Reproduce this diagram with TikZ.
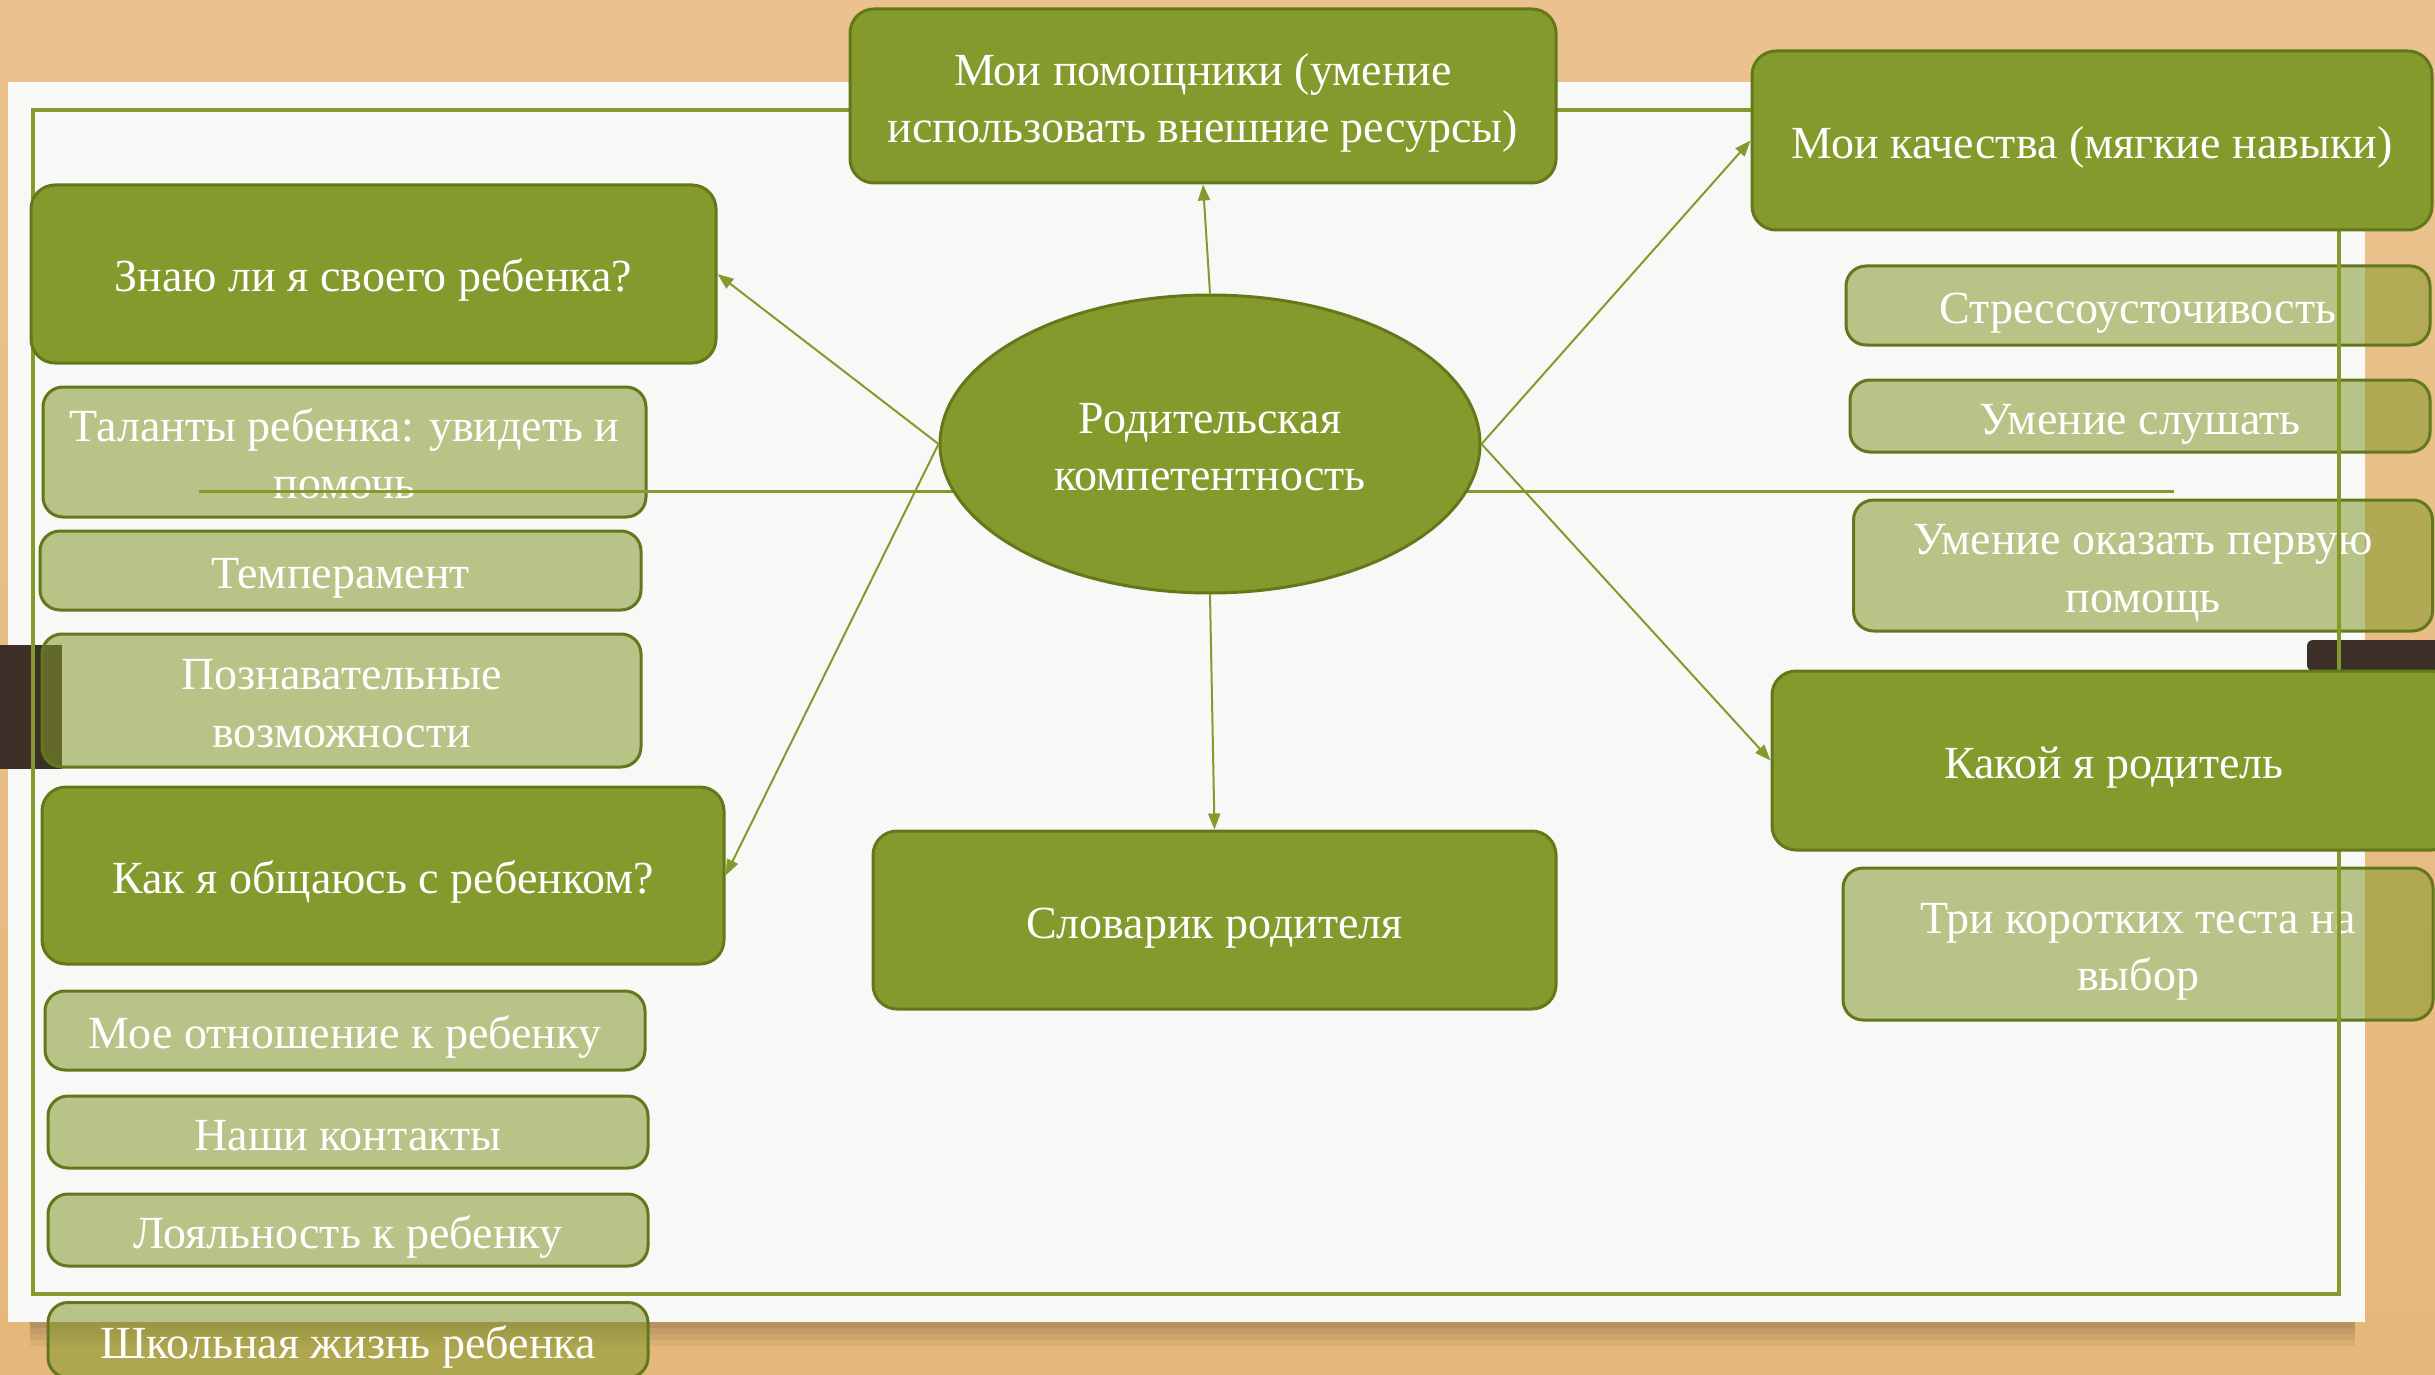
\documentclass[tikz,border=0pt]{standalone}
\usepackage{fontspec}
\setmainfont{Liberation Serif}
\usetikzlibrary{arrows.meta,shapes.geometric}

\definecolor{leaf}{HTML}{849A2C}
\definecolor{leafdark}{HTML}{62781A}
\definecolor{woodtop}{HTML}{EBC28E}
\definecolor{woodbot}{HTML}{E5B77A}
\definecolor{paper}{HTML}{F8F8F7}
\definecolor{binder}{HTML}{3B2F27}

\tikzset{
  topic/.style={draw=leafdark, line width=1.5pt, fill=leaf, rounded corners=12pt,
    text=white, align=center, inner sep=0pt, font=\fontsize{23}{28.7}\selectfont,
    text height=18pt, text depth=0pt},
  subtopic/.style={topic, fill opacity=0.55, text opacity=1, rounded corners=10pt},
  twolines/.style={text height=46.7pt},
  boxsize/.style 2 args={minimum width=#1pt, minimum height=#2pt},
  link/.style={draw=leaf, line width=1pt, -{Triangle[length=8pt,width=6pt]}}
}

\begin{document}
\begin{tikzpicture}[x=0.5pt, y=-0.5pt]
  \useasboundingbox (0,0) rectangle (2435,1375);
  \clip (0,0) rectangle (2435,1375);
  \shade[top color=woodtop, bottom color=woodbot] (0,0) rectangle (2435,1375);
  \foreach \d in {6,12,18,24}
    \fill[black, opacity=0.05] (30,1322) rectangle (2355,1322+\d);
  \fill[paper] (8,82) rectangle (2365,1322);
  \fill[binder] (0,645) rectangle (62,769);
  \fill[binder, rounded corners=3pt] (2307,640) rectangle (2450,671);

  \node[subtopic, twolines, boxsize={301.5}{65}] (tal) at (344.5,452) {Таланты ребенка: увидеть и\\помочь};
  \node[subtopic, boxsize={300.5}{39.5}] (temp) at (340.5,570.5) {Темперамент};
  \node[subtopic, twolines, boxsize={299.5}{66.5}] (cog) at (341.5,700.5) {Познавательные\\возможности};
  \node[subtopic, boxsize={300}{39.5}] (att) at (345,1030.5) {Мое отношение к ребенку};
  \node[subtopic, boxsize={300}{36}] (cont) at (348,1132) {Наши контакты};
  \node[subtopic, boxsize={300}{36}] (loy) at (348,1230) {Лояльность к ребенку};
  \node[subtopic, boxsize={300}{37.5}] (sch) at (348,1340) {Школьная жизнь ребенка};
  \node[subtopic, boxsize={292}{39.5}] (str) at (2138,305.5) {Стрессоусточивость};
  \node[subtopic, boxsize={290}{36}] (lis) at (2140,416) {Умение слушать};
  \node[subtopic, twolines, boxsize={289.5}{65.5}] (aid) at (2143,565.5) {Умение оказать первую\\помощь};
  \node[subtopic, twolines, boxsize={295}{76}] (tst) at (2138,944) {Три коротких теста на\\выбор};

  \draw[leaf, line width=2pt] (33,110) rectangle (2339,1294);
  \coordinate (h1) at (199,491);
  \coordinate (h2) at (2174,491);
  \draw[leaf, line width=1.5pt] (h1) -- (h2);

  \node[topic, twolines, boxsize={353}{87}] (help) at (1203,96) {Мои помощники (умение\\использовать внешние ресурсы)};
  \node[topic, boxsize={340}{89.5}] (qual) at (2092,140.5) {Мои качества (мягкие навыки)};
  \node[topic, boxsize={342.5}{89}] (know) at (373.5,274) {Знаю ли я своего ребенка?};
  \node[topic, boxsize={341}{88.5}] (talk) at (383,875.5) {Как я общаюсь с ребенком?};
  \node[topic, boxsize={341.5}{89}] (dict) at (1214.5,920) {Словарик родителя};
  \node[topic, boxsize={342}{89.5}] (par) at (2114,760.5) {Какой я родитель};
  \node[topic, twolines, ellipse, boxsize={270}{149}] (c) at (1210,444) {Родительская\\компетентность};

  \draw[link] (c.north) -- (help.south);
  \draw[link] (c.west) -- (know.east);
  \draw[link] (c.west) -- (talk.east);
  \draw[link] (c.east) -- (qual.west);
  \draw[link] (c.east) -- (par.west);
  \draw[link] (c.south) -- (dict.north);
\end{tikzpicture}
\end{document}
